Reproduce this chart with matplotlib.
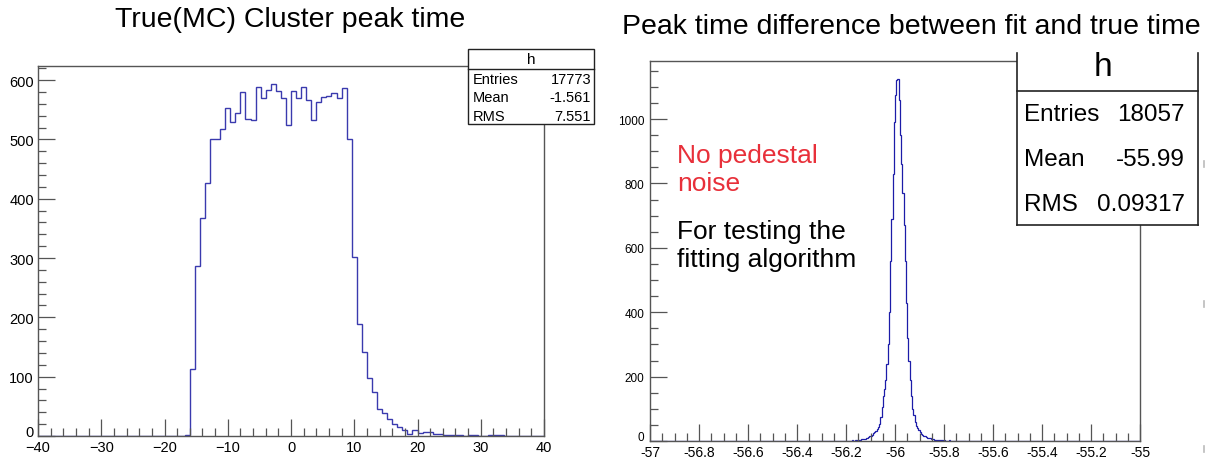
import numpy as np
import matplotlib
matplotlib.use("Agg")
import matplotlib.pyplot as plt
from matplotlib.patches import Rectangle
from matplotlib.lines import Line2D
from matplotlib.ticker import MultipleLocator, FuncFormatter
from matplotlib.transforms import ScaledTranslation

plt.rcParams['font.family'] = ['Liberation Sans', 'DejaVu Sans']
NARROW = ['Liberation Sans Narrow', 'Liberation Sans', 'DejaVu Sans']

# ---- left histogram: true (MC) cluster peak time, 100 bins on [-40, 40]
left_range = (-40.0, 40.0)
left_counts = [0] * 29 + [
    2,                                                   # bin 29
    113, 287, 367, 427, 501, 500, 518, 553, 529, 545,    # bins 30-39
    580, 535, 533, 589, 569, 583, 594, 581, 569, 524,    # bins 40-49
    581, 569, 589, 567, 533, 563, 572, 573, 579, 570,    # bins 50-59
    587, 501, 302, 188, 142, 97, 74, 46, 38, 28,         # bins 60-69
    20, 16, 10, 3, 10, 5, 6, 6, 4, 4,                    # bins 70-79
    2, 2, 2, 1, 0, 1, 1, 0, 0, 1,                        # bins 80-89
    1, 1, 0, 0, 0, 0, 0, 0, 0, 0,                        # bins 90-99
]
left_stats = [("Entries", "17773"), ("Mean", "-1.561"), ("RMS", "7.551")]

# ---- right histogram: fit minus true peak time, 400 bins on [-57, -55]
right_range = (-57.0, -55.0)
right_nbins = 400
core_first_bin = 150          # counts below start at bin 150 (t = -56.25)
core_counts = [
    0, 1, 0, 1, 0, 0, 1, 0, 1, 1,
    0, 1, 0, 1, 1, 2, 1, 2, 2, 3,
    3, 4, 5, 5, 6, 7, 9, 10, 12, 15,
    17, 20, 24, 27, 32, 38, 45, 52, 75, 105,
    140, 160, 190, 240, 300, 400, 560, 690, 830, 990,
    1075, 1120, 1124, 1060, 950, 860, 770, 670, 560, 430,
    320, 250, 190, 140, 100, 80, 60, 48, 40, 33,
    28, 23, 18, 16, 14, 12, 10, 9, 8, 7,
    6, 5, 4, 4, 3, 3, 2, 3, 2, 1,
    2, 1, 1, 0, 2, 1, 1, 0, 1, 1,
]
# isolated single entries away from the core
stray_times = [-56.939, -56.850, -56.633, -56.456, -56.354, -56.320, -56.293,
               -56.258, -55.626, -55.544, -55.449, -55.354, -55.184, -55.109]
right_stats = [("Entries", "18057"), ("Mean", "-55.99"), ("RMS", "0.09317")]

W, H = 1216, 460
fig = plt.figure(figsize=(W / 100, H / 100), dpi=100)


def fx(x):
    return x / W


def fy(y):
    return 1 - y / H


FRAME = '#555555'


def style_axes(ax):
    for s in ax.spines.values():
        s.set_color(FRAME)
        s.set_linewidth(1.0)
    ax.tick_params(which='both', direction='in', top=False, right=False,
                   colors=FRAME, labelcolor='black')
    ax.tick_params(which='major', length=12, width=0.9)
    ax.tick_params(which='minor', length=6, width=0.9)


def lift_zero_label(ax):
    # nudge the y-axis "0" label up so it clears the first x label
    fig.canvas.draw()
    for lab in ax.get_yticklabels():
        if lab.get_text() == '0':
            lab.set_transform(lab.get_transform() +
                              ScaledTranslation(0, 4 / 72, fig.dpi_scale_trans))


# ---------------- left panel ----------------
ax1 = fig.add_axes([fx(38), fy(437), 506 / W, 370 / H])
edges1 = np.linspace(left_range[0], left_range[1], len(left_counts) + 1)
ax1.stairs(left_counts, edges1, color='#3a3aae', linewidth=1.0)
ax1.set_xlim(*left_range)
ax1.set_ylim(0, 1.05 * max(left_counts))
ax1.xaxis.set_major_locator(MultipleLocator(10))
ax1.xaxis.set_minor_locator(MultipleLocator(2))
ax1.yaxis.set_major_locator(MultipleLocator(100))
ax1.yaxis.set_minor_locator(MultipleLocator(20))
style_axes(ax1)
ax1.tick_params(axis='both', which='major', labelsize=10.5, pad=3)
fig.text(fx(290), fy(20), "True(MC) Cluster peak time", fontsize=20.5,
         ha='center', va='center')

# stats box (left)
fig.add_artist(Rectangle((fx(468), fy(125)), 126 / W, 75 / H,
                         transform=fig.transFigure, facecolor='white',
                         edgecolor='#222222', linewidth=1.0, zorder=5))
fig.add_artist(Line2D([fx(468), fx(594)], [fy(70), fy(70)],
                      transform=fig.transFigure, color='#222222',
                      linewidth=1.0, zorder=6))
fig.text(fx(531), fy(60), "h", fontsize=11, ha='center', va='center', zorder=7)
for i, (name, val) in enumerate(left_stats):
    y = fy(80 + i * 18.5)
    fig.text(fx(473), y, name, fontsize=10.5, ha='left', va='center', zorder=7)
    fig.text(fx(591), y, val, fontsize=10.5, ha='right', va='center', zorder=7)

# ---------------- right panel ----------------
ax2 = fig.add_axes([fx(650), fy(442), 490 / W, 380 / H])
right_counts = np.zeros(right_nbins)
right_counts[core_first_bin:core_first_bin + len(core_counts)] = core_counts
edges2 = np.linspace(right_range[0], right_range[1], right_nbins + 1)
stray_hist, _ = np.histogram(stray_times, bins=edges2)
right_counts = right_counts + stray_hist
ax2.stairs(right_counts, edges2, color='#1c1ca8', linewidth=0.9)
ax2.set_xlim(*right_range)
ax2.set_ylim(0, 1.05 * right_counts.max())
ax2.xaxis.set_major_locator(MultipleLocator(0.2))
ax2.xaxis.set_minor_locator(MultipleLocator(0.05))
ax2.yaxis.set_major_locator(MultipleLocator(200))
ax2.yaxis.set_minor_locator(MultipleLocator(50))
style_axes(ax2)
ax2.tick_params(axis='x', which='major', labelsize=10, pad=3)
ax2.tick_params(axis='y', which='major', labelsize=8.5, pad=4)
ax2.xaxis.set_major_formatter(FuncFormatter(lambda v, p: f"{v:g}"))
for lab in ax2.get_xticklabels() + ax2.get_yticklabels():
    lab.set_family(NARROW)

fig.text(fx(911), fy(27), "Peak time difference between fit and true time",
         fontsize=20.5, ha='center', va='center')

ax2.text(0.055, 0.716, "No pedestal\nnoise", transform=ax2.transAxes,
         fontsize=19, color='#e8303a', ha='left', va='center',
         linespacing=1.22)
ax2.text(0.055, 0.516, "For testing the\nfitting algorithm",
         transform=ax2.transAxes, fontsize=19, color='black', ha='left',
         va='center', linespacing=1.22)

# stats box (right)
fig.add_artist(Rectangle((fx(1017), fy(226)), 181 / W, 172 / H,
                         transform=fig.transFigure, facecolor='white',
                         edgecolor='none', zorder=5))
for xs, ys in [([1017, 1017], [54, 226]), ([1198, 1198], [54, 226]),
               ([1017, 1198], [226, 226]), ([1017, 1198], [92, 92])]:
    fig.add_artist(Line2D([fx(v) for v in xs], [fy(v) for v in ys],
                          transform=fig.transFigure, color='#222222',
                          linewidth=1.2, zorder=6))
fig.text(fx(1103), fy(68), "h", fontsize=24, family=NARROW,
         ha='center', va='center', zorder=7)
for i, (name, val) in enumerate(right_stats):
    y = fy(115 + i * 45)
    fig.text(fx(1024), y, name, fontsize=17.5, family=NARROW,
             ha='left', va='center', zorder=7)
    fig.text(fx(1185), y, val, fontsize=17.5, family=NARROW,
             ha='right', va='center', zorder=7)

# faint marks along the right edge
for ym in (165, 305, 450):
    fig.add_artist(Line2D([fx(1204), fx(1204)], [fy(ym - 3), fy(ym + 3)],
                          transform=fig.transFigure, color='#bbbbbb',
                          linewidth=1.2, zorder=8))

lift_zero_label(ax1)
lift_zero_label(ax2)

fig.savefig("out.png", dpi=100, facecolor='white')
